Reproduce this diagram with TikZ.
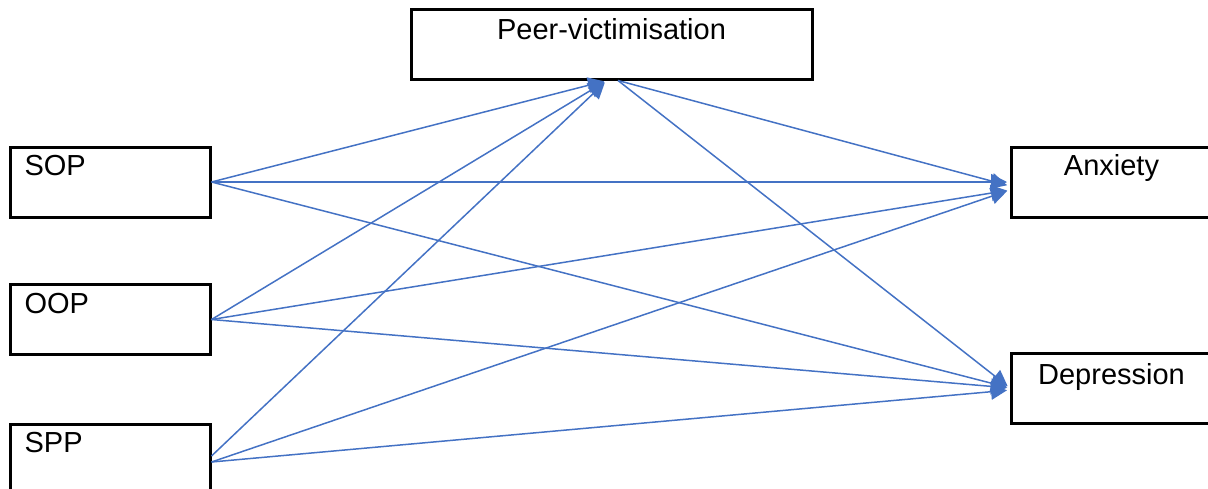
\documentclass[tikz,border=0pt]{standalone}
\usepackage{fontspec}
\setmainfont{Liberation Sans}
\usetikzlibrary{arrows.meta}
\definecolor{linkblue}{HTML}{4472C4}

\begin{document}
\begin{tikzpicture}[x=0.5pt,y=-0.5pt,shorten >=1.5pt,
    box/.style={draw,rectangle,line width=1.5pt,inner sep=0pt,
      minimum width=100pt,minimum height=35pt},
    every label/.style={font=\fontsize{14.5}{17}\selectfont},
    link/.style={color=linkblue,line width=0.75pt,
      -{Triangle[length=8pt,width=8pt]}}]

          \useasboundingbox (0,0) rectangle (1208,488);

          \node[box,minimum width=200.5pt,
                label={[anchor=north,yshift=-2pt]north:Peer-victimisation}]  (P)   at (611.5,44)  { };
          \node[box,label={[anchor=north west,xshift=4.5pt,yshift=-1.5pt]north west:SOP}] (SOP) at (110,182)   { };
          \node[box,label={[anchor=north west,xshift=4.5pt,yshift=-1.5pt]north west:OOP}] (OOP) at (110,319.5) { };
          \node[box,label={[anchor=north west,xshift=4.5pt,yshift=-1.5pt]north west:SPP}] (SPP) at (110,459)   { };
          \node[box,label={[anchor=north,yshift=-1pt]north:Anxiety}]    (Anx) at (1111.5,182) { };
          \node[box,label={[anchor=north,yshift=-2.5pt]north:Depression}] (Dep) at (1111.5,388) { };

          \path[every edge/.style={draw,link}]
                      (SOP.east) edge ([xshift=-2.25pt]P.south)
                                 edge (Anx.west)
                                 edge (Dep.west)
                      (OOP.east) edge ([xshift=-2.25pt]P.south)
                                 edge ([yshift=-4pt]Anx.west)
                                 edge (Dep.west)
                      ([yshift=1.5pt]SPP.east) edge ([xshift=-2.25pt]P.south)
                      ([yshift=-1.5pt]SPP.east) edge ([yshift=-4pt]Anx.west)
                                 edge ([yshift=-1pt]Dep.west)
                      ([xshift=3.25pt]P.south) edge ([yshift=-2pt]Anx.west)
                                 edge (Dep.west);
        \end{tikzpicture}
\end{document}
